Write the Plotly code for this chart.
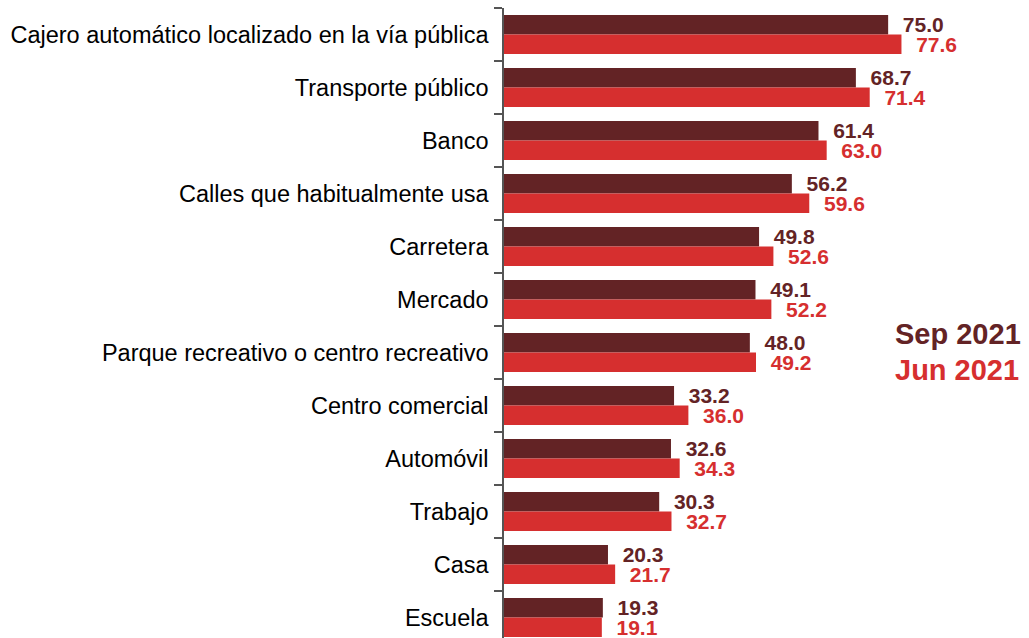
import plotly.graph_objects as go

categories = [
    "Cajero automático localizado en la vía pública",
    "Transporte público",
    "Banco",
    "Calles que habitualmente usa",
    "Carretera",
    "Mercado",
    "Parque recreativo o centro recreativo",
    "Centro comercial",
    "Automóvil",
    "Trabajo",
    "Casa",
    "Escuela",
]
sep_2021 = [75.0, 68.7, 61.4, 56.2, 49.8, 49.1, 48.0, 33.2, 32.6, 30.3, 20.3, 19.3]
jun_2021 = [77.6, 71.4, 63.0, 59.6, 52.6, 52.2, 49.2, 36.0, 34.3, 32.7, 21.7, 19.1]
series_names = ["Sep 2021", "Jun 2021"]

C_SEP = "#632325"
C_JUN = "#D62F2F"
FONT = "Liberation Sans, Arial, sans-serif"

fig = go.Figure()
for name, vals, col in [(series_names[0], sep_2021, C_SEP), (series_names[1], jun_2021, C_JUN)]:
    fig.add_trace(go.Bar(
        name=name, x=vals, y=categories, orientation="h",
        marker=dict(color=col, line=dict(width=0)),
        text=["\u00a0\u00a0" + f"{v:.1f}" for v in vals],
        textposition="outside", cliponaxis=False, constraintext="none",
        textfont=dict(family=FONT, size=21, color=col, weight="bold"),
    ))

fig.update_layout(
    width=1029, height=638,
    margin=dict(l=504, r=0, t=8, b=0),
    barmode="group", bargap=0.264, bargroupgap=0,
    plot_bgcolor="white", paper_bgcolor="white",
    showlegend=False,
    font=dict(family=FONT),
    xaxis=dict(range=[0, 102.5], visible=False, fixedrange=True),
    yaxis=dict(
        type="category", range=[11.387, -0.5],
        showline=True, linecolor="#555555", linewidth=1.5,
        ticks="outside", tickson="boundaries", ticklen=8, tickcolor="#555555", tickwidth=1.5,
        ticklabelstandoff=9,
        tickfont=dict(family=FONT, size=23.5, color="black"),
        showgrid=False, zeroline=False, fixedrange=True,
    ),
)
fig.add_annotation(text="<b>Sep 2021</b>", xref="paper", yref="paper", x=0.741, y=0.482,
                   xanchor="left", yanchor="middle", showarrow=False,
                   font=dict(family=FONT, size=29, color=C_SEP))
fig.add_annotation(text="<b>Jun 2021</b>", xref="paper", yref="paper", x=0.741, y=0.425,
                   xanchor="left", yanchor="middle", showarrow=False,
                   font=dict(family=FONT, size=29, color=C_JUN))

fig.write_html("out.html", config={"displayModeBar": False},
               post_script="document.body.style.margin='0';document.body.style.overflow='hidden';")
